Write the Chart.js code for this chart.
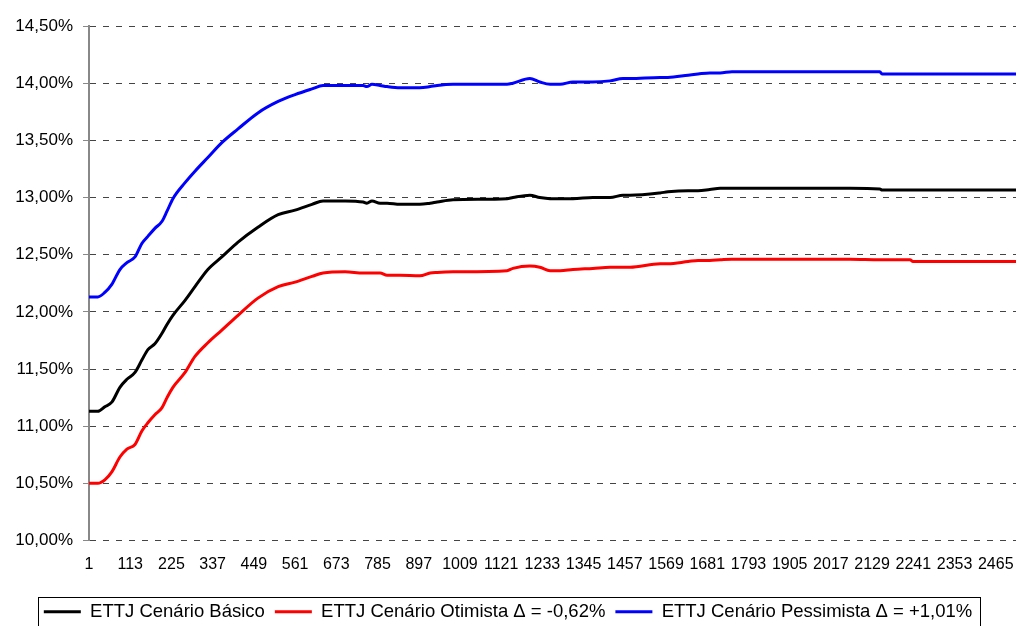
<!DOCTYPE html>
<html>
<head>
<meta charset="utf-8">
<script src="https://cdn.jsdelivr.net/npm/chart.js@4"></script>
<style>
  body { margin: 0; background: #fff; }
  #wrap { width: 1018px; height: 626px; }
</style>
</head>
<body>
<div id="wrap"><canvas id="lineChart"></canvas></div>
<script>
// dias uteis (eixo x) onde a curva foi lida
var dias = [1, 25, 44, 63, 85, 104, 126, 145, 161, 180, 199, 213, 229, 262, 289, 324, 362, 406, 460, 515,
  561, 607, 637, 697, 746, 756, 770, 792, 811, 846, 900, 928, 947, 990, 1137, 1153, 1199, 1226, 1254, 1281,
  1316, 1370, 1417, 1452, 1471, 1553, 1574, 1629, 1656, 1688, 1716, 1748, 1819, 2069, 2150, 2156, 2232, 2240, 2520];

var basico = [11.13, 11.13, 11.17, 11.21, 11.34, 11.41, 11.47, 11.58, 11.67, 11.72, 11.81, 11.89, 11.97, 12.10, 12.22, 12.37, 12.48, 12.61, 12.74, 12.85,
  12.89, 12.94, 12.97, 12.97, 12.96, 12.95, 12.97, 12.95, 12.95, 12.94, 12.94, 12.95, 12.96, 12.98, 12.99, 13.00, 13.02, 13.00, 12.99, 12.99,
  12.99, 13.00, 13.00, 13.02, 13.02, 13.04, 13.05, 13.06, 13.06, 13.07, 13.08, 13.08, 13.08, 13.08, 13.075, 13.065, 13.065, 13.065, 13.065];

var otimista = [10.50, 10.50, 10.53, 10.60, 10.73, 10.80, 10.84, 10.96, 11.03, 11.10, 11.16, 11.25, 11.34, 11.47, 11.61, 11.73, 11.84, 11.97, 12.12, 12.22,
  12.26, 12.31, 12.34, 12.35, 12.34, 12.34, 12.34, 12.34, 12.32, 12.32, 12.315, 12.34, 12.345, 12.35, 12.36, 12.38, 12.40, 12.39, 12.36, 12.36,
  12.37, 12.38, 12.39, 12.39, 12.39, 12.42, 12.42, 12.44, 12.45, 12.45, 12.455, 12.46, 12.46, 12.46, 12.455, 12.455, 12.455, 12.44, 12.44];

var pessimista = [12.13, 12.13, 12.17, 12.24, 12.37, 12.43, 12.48, 12.60, 12.66, 12.73, 12.79, 12.88, 12.99, 13.13, 13.23, 13.35, 13.48, 13.60, 13.74, 13.84,
  13.90, 13.95, 13.98, 13.98, 13.98, 13.97, 13.99, 13.98, 13.97, 13.96, 13.96, 13.97, 13.98, 13.99, 13.99, 14.00, 14.04, 14.01, 13.99, 13.99,
  14.01, 14.01, 14.02, 14.04, 14.04, 14.05, 14.05, 14.07, 14.08, 14.09, 14.09, 14.10, 14.10, 14.10, 14.10, 14.08, 14.08, 14.08, 14.08];

var rotulosX = [1, 113, 225, 337, 449, 561, 673, 785, 897, 1009, 1121, 1233, 1345, 1457, 1569, 1681, 1793, 1905, 2017, 2129, 2241, 2353, 2465];

var nomes = ["ETTJ Cenário Básico", "ETTJ Cenário Otimista \u0394 = -0,62%", "ETTJ Cenário Pessimista \u0394 = +1,01%"];

function pontos(serie) {
  return dias.map(function (d, i) { return { x: d, y: serie[i] }; });
}

function serie(label, valores, cor) {
  return {
    label: label,
    data: pontos(valores),
    borderColor: cor,
    backgroundColor: cor,
    borderWidth: 3,
    pointRadius: 0,
    cubicInterpolationMode: "monotone",
  };
}

// moldura da legenda, como no Excel
var legendBorder = {
  id: "legendBorder",
  afterDraw: function (chart) {
    var boxes = chart.legend.legendHitBoxes;
    if (!boxes || !boxes.length) return;
    var first = boxes[0], last = boxes[boxes.length - 1];
    var ctx = chart.ctx;
    var left = Math.round(first.left - 6) + 0.5;
    var right = Math.round(last.left + last.width + 8) + 0.5;
    var top = Math.round(first.top - 6) + 0.5;
    ctx.save();
    ctx.strokeStyle = "#000";
    ctx.lineWidth = 1;
    ctx.strokeRect(left, top, right - left, 60);
    ctx.restore();
  },
};

var ctx = document.getElementById("lineChart").getContext("2d");
var myChart = new Chart(ctx, {
  type: "line",
  data: {
    datasets: [
      serie(nomes[0], basico, "#000000"),
      serie(nomes[1], otimista, "#ff0000"),
      serie(nomes[2], pessimista, "#0000ff"),
    ],
  },
  options: {
    responsive: true,
    maintainAspectRatio: false,
    animation: false,
    layout: { padding: { top: 26, right: 2, left: 0, bottom: -5 } },
    scales: {
      x: {
        type: "linear",
        min: 1,
        max: 2520,
        grid: { display: false, drawTicks: false },
        border: { display: false },
        afterBuildTicks: function (scale) {
          scale.ticks = rotulosX.map(function (v) { return { value: v }; });
        },
        ticks: {
          autoSkip: false,
          maxRotation: 0,
          padding: 14,
          color: "#000",
          font: { family: "'Liberation Sans', Arial, sans-serif", size: 16 },
          callback: function (v) { return String(v); },
        },
        afterFit: function (scale) {
          scale.height = 52;
          scale.paddingRight = 0;
          scale.paddingLeft = 0;
        },
      },
      y: {
        min: 10,
        max: 14.5,
        grid: { color: "#444", tickColor: "#888", tickLength: 6, tickBorderDash: [] },
        border: { display: true, color: "#888", width: 2, dash: [6, 7] },
        ticks: {
          stepSize: 0.5,
          padding: 10,
          color: "#000",
          font: { family: "'Liberation Sans', Arial, sans-serif", size: 17 },
          callback: function (v) { return v.toFixed(2).replace(".", ",") + "%"; },
        },
        afterFit: function (scale) { scale.width = 89; },
      },
    },
    plugins: {
      tooltip: { enabled: false },
      legend: {
        position: "bottom",
        labels: {
          usePointStyle: true,
          pointStyle: "line",
          pointStyleWidth: 37,
          padding: 10,
          color: "#000",
          font: { family: "'Liberation Sans', Arial, sans-serif", size: 18.5 },
        },
      },
    },
  },
  plugins: [legendBorder],
});
</script>
</body>
</html>
